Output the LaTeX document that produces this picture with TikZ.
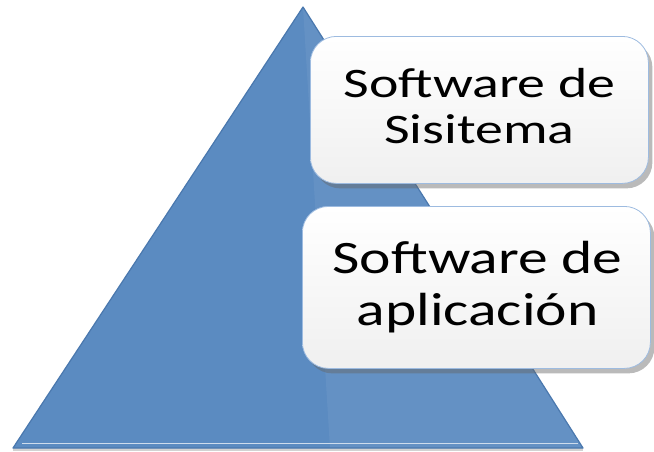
\documentclass[tikz,border=0pt]{standalone}
\usepackage{fontspec}
\setmainfont{Carlito}
\usetikzlibrary{shadows,fadings}
\definecolor{triblue}{HTML}{5B8BC1}
\definecolor{triedge}{HTML}{4A78AE}
\definecolor{boxline}{HTML}{9DBBE0}
\tikzset{
  layerbox/.style={draw=boxline, line width=0.8pt, rounded corners=26pt,
    top color=white, bottom color=black!6,
    drop shadow={shadow xshift=4pt, shadow yshift=-5pt, opacity=0.45, fill=black!60}},
  systext/.style={font=\fontsize{42}{46}\selectfont, xscale=1.33, anchor=base, text=black, inner sep=0pt},
  apptext/.style={font=\fontsize{46.5}{52}\selectfont, xscale=1.28, anchor=base, text=black, inner sep=0pt}
}
\begin{document}
\begin{tikzpicture}[x=1pt,y=-1pt]
\useasboundingbox (0,0) rectangle (654,451);
% triangle
\coordinate (apex) at (303,7);
\coordinate (bl) at (13,448);
\coordinate (br) at (583,448);
\fill[black!35, opacity=0.5] (13,451) -- (583,451) -- (583,448) -- (13,448) -- cycle;
\fill[triblue] (apex) -- (br) -- (bl) -- cycle;
\fill[white, opacity=0.06] (apex) -- (br) -- (330,448) -- cycle;
\draw[triedge, line width=1.2pt, line join=round] (apex) -- (br) -- (bl) -- cycle;
\draw[white!70!triblue, line width=1pt] (22,443) -- (578,443);
% boxes
\node[layerbox, minimum width=338pt, minimum height=147pt, anchor=north west] (sys) at (310,36) {};
\node[layerbox, minimum width=348pt, minimum height=162pt, anchor=north west] (app) at (302,206) {};
\node[systext] (sysA) at (479.5,97) {Software de};
\node[systext] (sysB) at (479.5,143) {Sisitema};
\node[apptext] (appA) at (477.5,273) {Software de};
\node[apptext] (appB) at (477.5,325) {aplicación};
\end{tikzpicture}
\end{document}
